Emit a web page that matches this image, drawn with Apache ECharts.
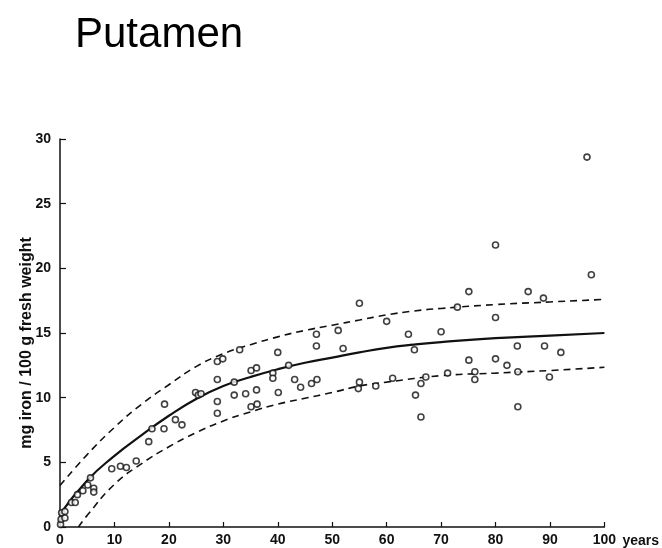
<!DOCTYPE html>
<html>
<head>
<meta charset="utf-8">
<script src="https://cdn.jsdelivr.net/npm/echarts@6/dist/echarts.min.js"></script>
<style>
html,body{margin:0;padding:0;background:#fff;}
#c{width:662px;height:548px;}
</style>
</head>
<body>
<div id="c"></div>
<script>
// Observed data: age (years) and iron (mg / 100 g fresh weight)
var ageX = [0.1,0.2,0.3,0.9,0.9,2.1,2.8,3.2,4.2,5.1,5.6,6.2,6.2,9.5,11.1,12.2,14.0,16.3,16.9,19.2,19.1,21.2,22.4,
  24.9,25.4,25.9,28.9,29.9,28.9,28.9,28.9,32.0,32.0,33.0,34.1,35.1,36.1,36.1,35.1,36.2,39.1,39.1,40.0,40.1,42.0,43.1,44.2,
  46.2,47.2,47.1,47.1,51.1,52.0,55.0,55.0,54.8,58.0,60.0,61.1,64.0,65.1,67.2,66.3,65.3,66.3,70.0,71.2,73.0,75.1,75.1,
  76.2,76.2,80.0,80.0,80.0,82.1,84.0,84.1,84.1,86.0,88.8,89.0,89.9,92.0,97.6,96.8];
var ironY = [0.2,0.6,1.1,1.2,0.7,1.9,1.9,2.5,2.8,3.25,3.8,3.0,2.7,4.5,4.7,4.6,5.1,6.6,7.6,9.5,7.6,8.3,7.9,
  10.4,10.2,10.3,12.8,13.0,11.4,9.7,8.8,11.2,10.2,13.7,10.3,12.1,12.3,10.6,9.3,9.5,11.9,11.5,13.5,10.4,12.5,11.4,10.8,
  11.1,11.4,14.9,14.0,15.2,13.8,17.3,11.2,10.7,10.9,15.9,11.5,14.9,13.7,11.6,11.1,10.2,8.5,15.1,11.9,17.0,18.2,12.9,
  12.0,11.4,21.8,16.2,13.0,12.5,14.0,12.0,9.3,18.2,17.7,14.0,11.6,13.5,19.5,28.6];

// Fitted curve (solid) and band (dashed)
var curveX = [0,5,10,15,20,25,30,35,40,45,50,55,60,65,70,80,90,100];
var meanY  = [1.0,3.6,5.5,7.1,8.6,9.9,10.9,11.6,12.2,12.7,13.1,13.5,13.85,14.1,14.3,14.6,14.8,15.0];
var upperY = [3.2,5.6,7.7,9.5,11.0,12.4,13.4,14.1,14.7,15.2,15.6,16.0,16.4,16.7,16.9,17.2,17.4,17.6];
var lowerX = [3.4,5,10,15,20,25,30,35,40,45,50,55,60,70,80,90,100];
var lowerY = [0,0.9,3.3,4.9,6.2,7.3,8.2,8.9,9.5,9.95,10.4,10.9,11.2,11.7,11.9,12.1,12.35];

var xTicks = [0,10,20,30,40,50,60,70,80,90,100];
var yTicks = [0,5,10,15,20,25,30];

function pairs(xs, ys){ return xs.map(function(x,i){ return [x, ys[i]]; }); }

var ink = '#111';
var chart = echarts.init(document.getElementById('c'));
chart.setOption({
  animation: false,
  backgroundColor: '#fff',
  title: {
    text: 'Putamen', left: 70, top: 9,
    textStyle: { fontFamily: 'Liberation Sans', fontSize: 42, fontWeight: 'normal', color: '#000' }
  },
  grid: { left: 60, right: 57, top: 139, bottom: 21, containLabel: false },
  xAxis: {
    type: 'value', min: 0, max: 100, interval: 10,
    name: 'years', nameLocation: 'end', nameGap: 18,
    nameTextStyle: { fontFamily: 'Liberation Sans', fontWeight: 'bold', fontSize: 14, color: ink, verticalAlign: 'top', padding: [7,0,0,0] },
    axisLine: { lineStyle: { color: ink, width: 1.5 } },
    axisTick: { inside: true, length: 5, lineStyle: { color: ink, width: 1.2 } },
    axisLabel: { fontFamily: 'Liberation Sans', fontWeight: 'bold', fontSize: 14, color: ink, margin: 6,
      formatter: function(v){ return xTicks.indexOf(v) >= 0 ? String(v) : ''; } },
    splitLine: { show: false }
  },
  yAxis: {
    type: 'value', min: 0, max: 30, interval: 5,
    name: 'mg iron / 100 g fresh weight', nameLocation: 'middle', nameGap: 25, nameRotate: 90,
    nameMoveOverlap: false,
    nameTextStyle: { fontFamily: 'Liberation Sans', fontWeight: 'bold', fontSize: 16, color: ink, padding: [0,20,0,0] },
    axisLine: { show: true, lineStyle: { color: ink, width: 1.5 } },
    axisTick: { show: true, inside: true, length: 6, lineStyle: { color: ink, width: 1.2 } },
    axisLabel: { fontFamily: 'Liberation Sans', fontWeight: 'bold', fontSize: 14, color: ink, margin: 9,
      formatter: function(v){ return yTicks.indexOf(v) >= 0 ? String(v) : ''; } },
    splitLine: { show: false }
  },
  series: [
    { type: 'line', data: pairs(curveX, upperY), smooth: true, symbol: 'none',
      lineStyle: { color: ink, width: 1.6, type: [7,5] } },
    { type: 'line', data: pairs(lowerX, lowerY), smooth: true, symbol: 'none',
      lineStyle: { color: ink, width: 1.6, type: [7,5] } },
    { type: 'line', data: pairs(curveX, meanY), smooth: true, symbol: 'none',
      lineStyle: { color: ink, width: 2.2 } },
    { type: 'scatter', data: pairs(ageX, ironY), symbol: 'circle', symbolSize: 6,
      itemStyle: { color: '#fff', borderColor: ink, borderWidth: 1.6 }, z: 5 }
  ]
});
</script>
</body>
</html>
